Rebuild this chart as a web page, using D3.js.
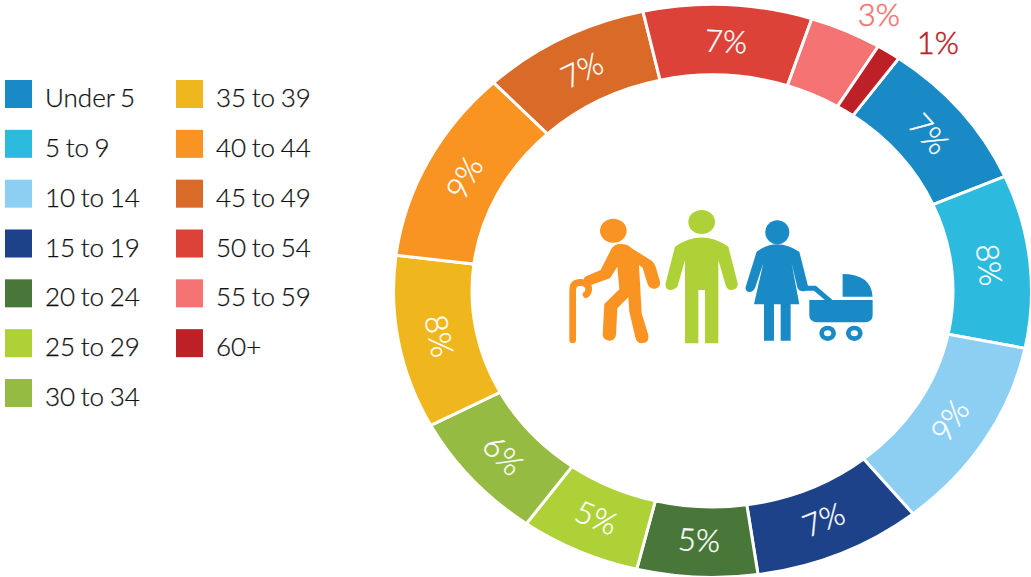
<!DOCTYPE html>
<html>
<head>
<meta charset="utf-8">
<script src="https://cdn.jsdelivr.net/npm/d3@7/dist/d3.min.js"></script>
<style>
body { margin: 0; background: #fff; }
text { font-family: Lato, sans-serif; }
</style>
</head>
<body>
<script>
// age groups, in the order they go round the ring
var ageGroups = ["Under 5", "5 to 9", "10 to 14", "15 to 19", "20 to 24", "25 to 29", "30 to 34",
                 "35 to 39", "40 to 44", "45 to 49", "50 to 54", "55 to 59", "60+"];
var shares = [7, 8, 9, 7, 5, 5, 6, 8, 9, 7, 7, 3, 1];
var ageColors = ["#1a8ac6", "#2cbade", "#8dcff3", "#1d4289", "#49773a", "#add136", "#96bb42",
                 "#f0b61d", "#f99322", "#d96a27", "#dc4238", "#f57373", "#bd2026"];
var outsideLabels = ["55 to 59", "60+"];

var width = 1031
var height = 577

// the ring is stretched sideways in the original
var cx = 712.5, cy = 291
var outerR = 319, innerR = 240.5
var squash = 286.5 / 319
var startDeg = 35.7

var svg = d3.select("body")
	.append("svg")
	.attr("width", width)
	.attr("height", height)
	.style("display", "block");

var color = d3.scaleOrdinal().domain(ageGroups).range(ageColors);

var pie = d3.pie()
	.value(function(d) { return d.share; })
	.sort(null)
	.startAngle(startDeg * Math.PI / 180)
	.endAngle((startDeg + 360) * Math.PI / 180);

var rows = ageGroups.map(function(g, i) { return {group: g, share: shares[i]}; });
var slices = pie(rows);

var arc = d3.arc().innerRadius(innerR).outerRadius(outerR);

svg.append("g")
	.attr("transform", "translate(" + cx + "," + cy + ") scale(1," + squash + ")")
	.selectAll("path")
	.data(slices)
	.enter()
	.append("path")
	.attr("d", arc)
	.attr("fill", function(d) { return color(d.data.group); })
	.attr("stroke", "#fff")
	.attr("stroke-width", 3)
	.attr("vector-effect", "non-scaling-stroke");

// labels sit along the ring, flipped on the lower half so they stay readable
var labelArc = d3.arc().innerRadius(278).outerRadius(278);

function labelTransform(d) {
	var c = labelArc.centroid(d);
	var a = (d.startAngle + d.endAngle) / 2;
	// tangent of the squashed ring, not of a true circle
	var rot = Math.atan2(squash * Math.sin(a), Math.cos(a)) * 180 / Math.PI;
	if (rot > 90) rot -= 180;
	if (rot < -90) rot += 180;
	return "translate(" + (cx + c[0]) + "," + (cy + c[1] * squash) + ") rotate(" + rot + ")";
}

svg.append("g")
	.selectAll("text")
	.data(slices.filter(function(d) { return outsideLabels.indexOf(d.data.group) < 0; }))
	.enter()
	.append("text")
	.attr("transform", labelTransform)
	.attr("text-anchor", "middle")
	.attr("dy", "0.35em")
	.attr("font-size", 31)
	.attr("font-weight", 300)
	.attr("stroke", "#fff")
	.attr("stroke-width", 0.4)
	.attr("fill", "#fff")
	.text(function(d) { return d.data.share + "%"; });

// the two thin slices get their label outside the ring, nudged clockwise
var outsideShift = d3.scaleOrdinal().domain(outsideLabels).range([3.7, 5.7]);
var outsideRadius = d3.scaleOrdinal().domain(outsideLabels).range([1.095, 1.118]);

function outsidePoint(d) {
	var a = (d.startAngle + d.endAngle) / 2 + outsideShift(d.data.group) * Math.PI / 180;
	var r = outerR * outsideRadius(d.data.group);
	return [cx + Math.sin(a) * r, cy - Math.cos(a) * r * squash];
}

svg.append("g")
	.selectAll("text")
	.data(slices.filter(function(d) { return outsideLabels.indexOf(d.data.group) >= 0; }))
	.enter()
	.append("text")
	.attr("x", function(d) { return outsidePoint(d)[0]; })
	.attr("y", function(d) { return outsidePoint(d)[1]; })
	.attr("text-anchor", "middle")
	.attr("dy", "0.35em")
	.attr("font-size", 31)
	.attr("font-weight", 300)
	.attr("stroke", function(d) { return color(d.data.group); })
	.attr("stroke-width", 0.5)
	.attr("fill", function(d) { return color(d.data.group); })
	.text(function(d) { return d.data.share + "%"; });

// legend, two columns
var perColumn = 7;
var legendCol = d3.scaleOrdinal().domain([0, 1]).range([5, 176]);
var legendRow = d3.scaleLinear().domain([0, 6]).range([80, 379]);

var legend = svg.append("g")
	.selectAll("g")
	.data(ageGroups)
	.enter()
	.append("g")
	.attr("transform", function(d, i) {
		var col = Math.floor(i / perColumn);
		return "translate(" + legendCol(col) + "," + legendRow(i % perColumn) + ")";
	});

legend.append("rect")
	.attr("width", 27)
	.attr("height", 28)
	.attr("fill", function(d) { return color(d); });

legend.append("text")
	.attr("x", 40)
	.attr("y", 18)
	.attr("dy", "0.35em")
	.attr("font-size", 26)
	.attr("font-weight", 300)
	.attr("word-spacing", -1.5)
	.attr("stroke", "#111")
	.attr("stroke-width", 0.25)
	.attr("fill", "#111")
	.text(function(d) { return d; });

// people icon in the middle, drawn in a 3x space
var icon = svg.append("g").attr("transform", "translate(560,200) scale(0.3333)");

// old man with the cane
icon.append("ellipse").attr("cx", 160).attr("cy", 92).attr("rx", 40).attr("ry", 36).attr("fill", "#f99322");
icon.append("path")
	.attr("fill", "#f99322")
	.attr("d", "M180,132 Q205,132 215,145 L275,182 Q283,188 287,200 L300,245 Q303,262 285,266 Q268,268 262,250 L248,203 L237,195 L245,340 L265,405 Q268,430 245,430 Q230,430 226,412 L208,335 L205,292 L172,325 L168,405 Q165,422 148,422 Q130,420 128,405 L133,312 L178,268 L172,200 L150,235 L85,258 Q70,258 70,243 Q70,232 80,228 L122,210 L155,145 Q165,132 180,132 Z");
icon.append("path")
	.attr("fill", "none")
	.attr("stroke", "#f99322")
	.attr("stroke-width", 20)
	.attr("stroke-linecap", "round")
	.attr("d", "M38,420 L38,270 Q38,247 62,247 Q88,250 86,270 Q84,282 78,284");

// man
icon.append("ellipse").attr("cx", 425).attr("cy", 66).attr("rx", 40).attr("ry", 36).attr("fill", "#add136");
icon.append("path")
	.attr("fill", "#add136")
	.attr("d", "M345,140 Q425,85 505,140 L533,250 Q535,268 515,270 Q500,270 497,255 L475,180 L475,430 L435,430 L435,270 L415,270 L415,430 L375,430 L375,180 L353,258 Q345,270 330,270 Q315,268 317,250 Z");

// woman and pram
icon.append("ellipse").attr("cx", 652).attr("cy", 97).attr("rx", 36).attr("ry", 36).attr("fill", "#1a8ac6");
icon.append("path")
	.attr("fill", "#1a8ac6")
	.attr("d", "M590,155 Q650,110 718,155 L745,262 Q742,275 727,274 Q715,272 712,262 L695,190 L718,313 L692,313 L692,422 L662,422 L662,313 L642,313 L642,422 L612,422 L612,313 L582,313 L610,190 L586,262 Q580,277 567,276 Q553,272 558,258 Z");
icon.append("path")
	.attr("fill", "none")
	.attr("stroke", "#1a8ac6")
	.attr("stroke-width", 15)
	.attr("d", "M735,265 L765,265 L812,305");
icon.append("path")
	.attr("fill", "#1a8ac6")
	.attr("d", "M748,300 L938,300 L938,345 Q938,367 915,367 L772,367 Q748,367 748,345 Z");
icon.append("path")
	.attr("fill", "#1a8ac6")
	.attr("d", "M848,222 Q933,222 938,290 L848,290 Z");
icon.selectAll("ellipse.wheel")
	.data([803, 883])
	.enter()
	.append("ellipse")
	.attr("class", "wheel")
	.attr("cx", function(d) { return d; })
	.attr("cy", 400)
	.attr("rx", 18)
	.attr("ry", 16)
	.attr("fill", "#fff")
	.attr("stroke", "#1a8ac6")
	.attr("stroke-width", 14);
</script>
</body>
</html>
